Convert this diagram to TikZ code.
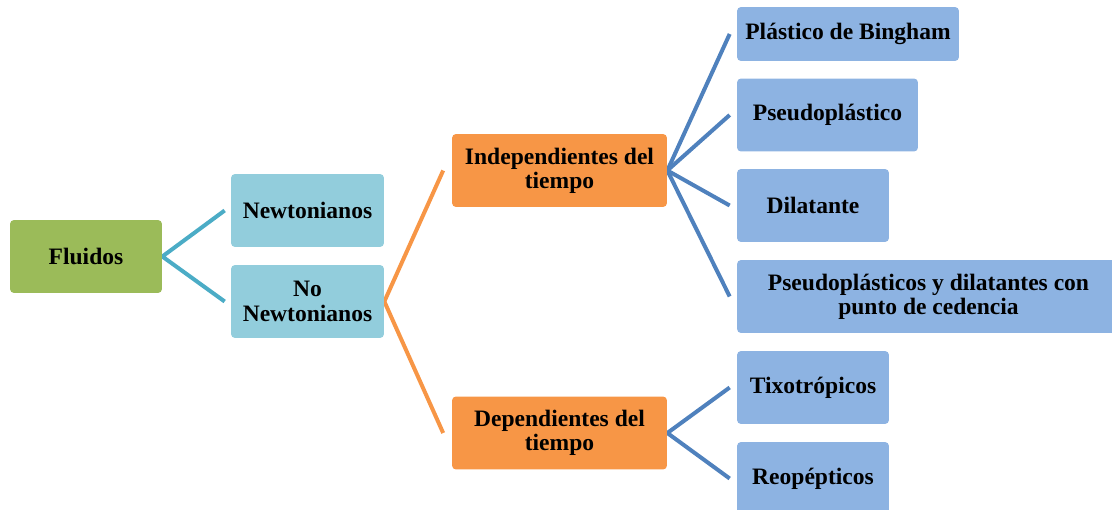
\documentclass[tikz,border=0pt]{standalone}
\usepackage{fontspec}
\setmainfont{Liberation Serif}
\usepackage{tikz}
\usetikzlibrary{backgrounds}
\definecolor{verde}{RGB}{155,187,89}
\definecolor{celeste}{RGB}{146,205,220}
\definecolor{turquesa}{RGB}{75,172,198}
\definecolor{naranja}{RGB}{247,150,70}
\definecolor{azulclaro}{RGB}{141,179,226}
\definecolor{azul}{RGB}{79,129,189}

\begin{document}
\begin{tikzpicture}[x=0.02cm, y=-0.02cm,
        caja/.style={rounded corners=0.08cm, minimum height=1.46cm, inner sep=0pt, align=center,
                     font=\bfseries\fontsize{13.4}{13.8}\selectfont},
        enlace/.style={line width=0.08cm}]
                \useasboundingbox (0,0) rectangle (1112,510);
                \clip (0,0) rectangle (1112,510);
                \node[caja, fill=verde, minimum width=3.04cm] (F) at (86,256.5) {Fluidos};
                \node[caja, fill=celeste, minimum width=3.06cm] (N) at (307.5,210.5) {Newtonianos};
                \node[caja, fill=celeste, minimum width=3.06cm] (NN) at (307.5,301.5) {No\\Newtonianos};
                \node[caja, fill=naranja, minimum width=4.3cm] (I) at (559.5,170.5) {Independientes del\\tiempo};
                \node[caja, fill=naranja, minimum width=4.3cm] (D) at (559.5,433) {Dependientes del\\tiempo};
                \node[caja, fill=azulclaro, minimum width=4.44cm, minimum height=1.08cm] (PB) at (848,34) {Plástico de Bingham};
                \node[caja, fill=azulclaro, minimum width=3.62cm] (P) at (827.5,115) {Pseudoplástico};
                \node[caja, fill=azulclaro, minimum width=3.04cm] (Di) at (813,205.5) {Dilatante};
                \node[caja, fill=azulclaro, minimum width=7.66cm] (PC) at (928.5,296.5) {Pseudoplásticos y dilatantes con\\punto de cedencia};
                \node[caja, fill=azulclaro, minimum width=3.04cm] (T) at (813,387.5) {Tixotrópicos};
                \node[caja, fill=azulclaro, minimum width=3.04cm] (R) at (813,478.5) {Reopépticos};
                \begin{scope}[on background layer]
                \draw[enlace, turquesa] ([xshift=-0.12cm]N.west) -- (F.east) -- ([xshift=-0.12cm]NN.west);
                \draw[enlace, naranja] ([xshift=-0.17cm]I.west) -- (NN.east) -- ([xshift=-0.17cm]D.west);
                \draw[enlace, azul] ([xshift=-0.14cm]PB.west) -- (I.east) -- ([xshift=-0.14cm]PC.west);
                \draw[enlace, azul] ([xshift=-0.14cm]P.west) -- (I.east) -- ([xshift=-0.14cm]Di.west);
                \draw[enlace, azul] ([xshift=-0.14cm]T.west) -- (D.east) -- ([xshift=-0.14cm]R.west);
                \end{scope}
            \end{tikzpicture}
\end{document}
